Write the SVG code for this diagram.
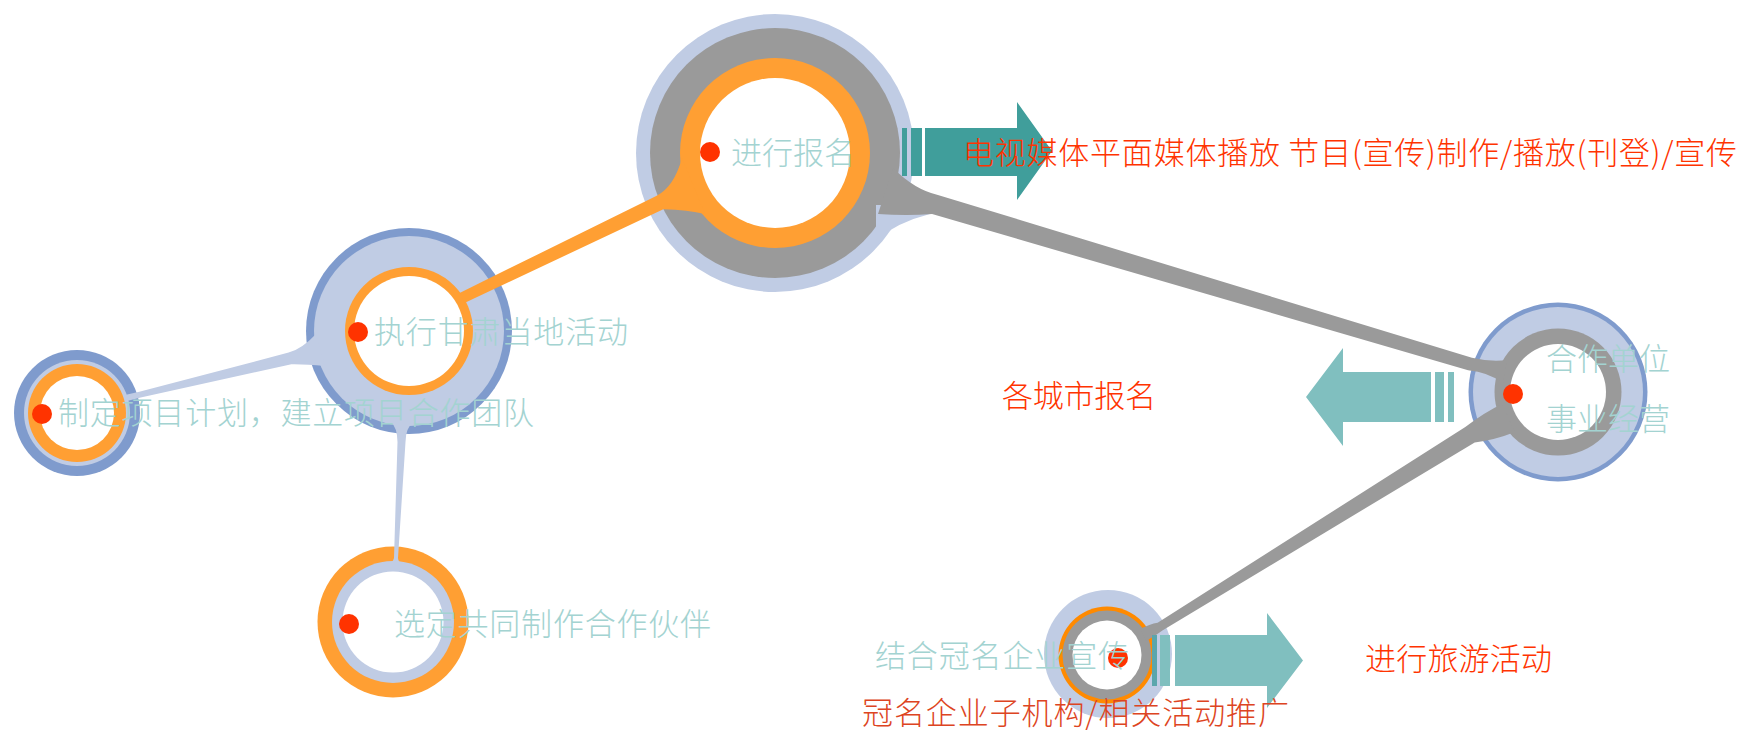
<svg xmlns="http://www.w3.org/2000/svg" width="1746" height="730" viewBox="0 0 1746 730">
<style>
.lb{fill:#C0CCE4}
.db{fill:#7F9BCD}
.gr{fill:#9A9A9A}
.or{fill:#FF9F33}
.or2{fill:#FF8A00}
.wh{fill:#FFFFFF}
.dot{fill:#FF3300}
.t{font-family:'Noto Sans CJK SC','Noto Sans CJK JP',sans-serif;font-weight:300;font-size:31px}
.tl{fill:#A3D3D1}
.tr{fill:#FF3300}
.tb{fill:#DD4422}
.tealD{fill:#409E9B}
.tealL{fill:#80BFBF}
</style>
<rect width="1746" height="730" fill="#FFFFFF"/>

<g id="node-baoming">
<circle class="lb" cx="775" cy="153" r="139"/>
<circle class="gr" cx="775" cy="153" r="125"/>
<circle class="or" cx="775" cy="153" r="95"/>
<circle class="wh" cx="775" cy="153" r="75"/>
<circle class="dot" cx="710" cy="152" r="10"/>
<text class="t tl" x="731" y="164" font-size="30.5">进行报名</text>
</g>

<g id="node-gansu">
<circle class="db" cx="409" cy="331" r="103"/>
<circle class="lb" cx="409" cy="331" r="95"/>
<circle class="or" cx="409" cy="331" r="64"/>
<circle class="wh" cx="409" cy="331" r="55"/>
<circle class="dot" cx="358" cy="332" r="10"/>
<text class="t tl" x="374" y="343" textLength="254">执行甘肃当地活动</text>
</g>

<g id="node-plan">
<circle class="db" cx="77" cy="413" r="63"/>
<circle class="lb" cx="77" cy="413" r="53"/>
<circle class="or" cx="77" cy="413" r="49"/>
<circle class="wh" cx="77" cy="413" r="37"/>
<circle class="dot" cx="42" cy="414" r="10"/>
<text class="t tl" x="58" y="424" textLength="476">制定项目计划，建立项目合作团队</text>
</g>

<g id="node-partner">
<circle class="or" cx="393" cy="622" r="75.5"/>
<circle class="lb" cx="393" cy="622" r="61"/>
<circle class="wh" cx="393" cy="622" r="50.5"/>
<circle class="dot" cx="349" cy="624" r="10"/>
<text class="t tl" x="394" y="635" textLength="317">选定共同制作合作伙伴</text>
</g>

<g id="node-unit">
<circle class="db" cx="1558" cy="392" r="89.5"/>
<circle class="lb" cx="1558" cy="392" r="85"/>
<circle class="gr" cx="1558" cy="392" r="63.5"/>
<circle class="wh" cx="1558" cy="392" r="48"/>
<circle class="dot" cx="1513" cy="394" r="10"/>
<text class="t tl" x="1546" y="370" font-size="30.75">合作单位</text>
<text class="t tl" x="1546" y="430" font-size="30.75">事业经营</text>
</g>

<g id="node-sponsor">
<circle class="lb" cx="1108" cy="654" r="64"/>
<circle class="or2" cx="1107" cy="655" r="48.5"/>
<circle class="gr" cx="1107" cy="655" r="44.5"/>
<circle class="wh" cx="1107" cy="655" r="34.5"/>
<circle class="dot" cx="1118" cy="658" r="10"/>
<text class="t tl" x="875" y="667" textLength="254">结合冠名企业宣传</text>
</g>

<g id="connectors">
<path class="or" d="M459.6,293 L656.7,195.7 Q674,187 682,158 L705,214 Q688,210 663.3,209.3 L464.4,303 Z"/>
<path class="lb" d="M876,240 Q898,222 930,214 L930,205 L876,205 Z"/>
<path class="gr" d="M893,168 Q915,190 937.9,194.9 L1471.9,357.7 Q1490,362 1507,360 L1503,383 Q1488,372 1468.1,370.2 L932.1,214.1 Q906,216 878,214 Z"/>
<path class="gr" d="M1140,629 Q1150,624 1157.6,622.8 L1465.3,427 Q1485,412 1502,404 L1515,432 Q1495,440 1474.7,442.4 L1162.4,630.4 Q1155,636 1146,641 Z"/>
<path class="lb" d="M125,395 L139.3,391.7 L288.6,352.6 Q302,349 316,334 L325,366 Q306,364 291.4,364.2 L140.7,397.5 L127,401 Z"/>
<path class="lb" d="M390,420 Q397.5,428 397.5,442 L394,558 Q393,562 388,566 L404,566 Q398,562 398,558 L405.5,442 Q405.5,428 414,421 Z"/>
</g>

<g id="arrow-media">
<rect class="tealD" x="902" y="128" width="5" height="48"/>
<rect class="tealD" x="911" y="128" width="11" height="48"/>
<path class="tealD" d="M925,128 L1017,128 L1017,102 L1052,151 L1017,200 L1017,176 L925,176 Z"/>
<text class="t tr" x="963" y="164" textLength="774">电视媒体平面媒体播放 节目(宣传)制作/播放(刊登)/宣传</text>
</g>

<g id="arrow-city">
<path class="tealL" d="M1431,372 L1343,372 L1343,348 L1306,397 L1343,446 L1343,422 L1431,422 Z"/>
<rect class="tealL" x="1435" y="372" width="9" height="50"/>
<rect class="tealL" x="1448" y="372" width="6" height="50"/>
<text class="t tr" x="1002" y="407" textLength="154">各城市报名</text>
</g>

<g id="arrow-travel">
<rect x="1152" y="635" width="5" height="51" fill="#5AA6AC"/>
<rect class="tealL" x="1160" y="635" width="10" height="51"/>
<path class="tealL" d="M1175,635 L1267,635 L1267,613 L1303,660.5 L1267,708 L1267,686 L1175,686 Z"/>
<text class="t tr" x="1365" y="670" textLength="187">进行旅游活动</text>
</g>

<g id="note-promotion">
<text class="t tb" x="862" y="724" textLength="427">冠名企业子机构/相关活动推广</text>
</g>
</svg>
